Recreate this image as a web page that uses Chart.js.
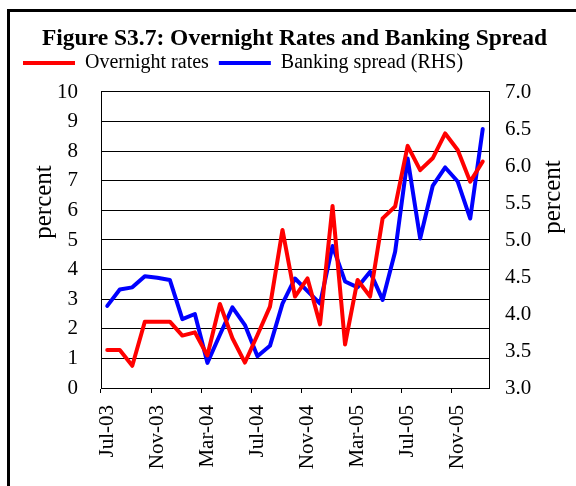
<!DOCTYPE html>
<html>
<head>
<meta charset="utf-8">
<script src="https://cdn.jsdelivr.net/npm/chart.js@4/dist/chart.umd.min.js"></script>
<style>
  html, body { margin: 0; padding: 0; background: #fff; }
  canvas { display: block; }
</style>
</head>
<body>
<canvas id="chart" width="576" height="486"></canvas>
<script>
// monthly observations, Jul-03 .. Jan-06
const months = [
  "Jul-03", "Aug-03", "Sep-03", "Oct-03", "Nov-03", "Dec-03",
  "Jan-04", "Feb-04", "Mar-04", "Apr-04", "May-04", "Jun-04",
  "Jul-04", "Aug-04", "Sep-04", "Oct-04", "Nov-04", "Dec-04",
  "Jan-05", "Feb-05", "Mar-05", "Apr-05", "May-05", "Jun-05",
  "Jul-05", "Aug-05", "Sep-05", "Oct-05", "Nov-05", "Dec-05",
  "Jan-06"
];

// left axis, percent
const overnightRates = [
  1.28, 1.28, 0.75, 2.24, 2.24, 2.24,
  1.77, 1.88, 1.10, 2.84, 1.68, 0.86,
  1.79, 2.75, 5.34, 3.09, 3.70, 2.15,
  6.15, 1.47, 3.65, 3.09, 5.73, 6.13,
  8.18, 7.36, 7.76, 8.60, 8.04, 6.97,
  7.65
];

// right axis (RHS), percent
const bankingSpread = [
  4.11, 4.33, 4.36, 4.51, 4.49, 4.46,
  3.93, 4.00, 3.34, 3.72, 4.09, 3.85,
  3.43, 3.57, 4.14, 4.48, 4.31, 4.14,
  4.92, 4.44, 4.36, 4.57, 4.19, 4.84,
  6.10, 5.02, 5.73, 5.98, 5.79, 5.29,
  6.50
];

const leftRange = { min: 0, max: 10, step: 1 };
const rightRange = { min: 3, max: 7, step: 0.5 };
const labelEvery = 4;

const SERIF = "'Liberation Serif', 'Times New Roman', serif";

// outer frame + rotated "percent" axis titles
const frameAndTitles = {
  id: "frameAndTitles",
  beforeDraw(chart) {
    const ctx = chart.ctx;
    ctx.save();
    ctx.fillStyle = "#000";
    ctx.fillRect(7, 9, chart.width, 3);
    ctx.fillRect(7, 9, 3, chart.height);
    ctx.restore();
  },
  afterDraw(chart) {
    const { ctx, chartArea } = chart;
    ctx.save();
    ctx.font = "25px " + SERIF;
    ctx.fillStyle = "#000";
    ctx.textAlign = "center";
    ctx.textBaseline = "middle";
    [[chartArea.left - 57, chartArea.top + 110], [chartArea.right + 64, chartArea.top + 105]].forEach(([x, y]) => {
      ctx.save();
      ctx.translate(x, y);
      ctx.rotate(-Math.PI / 2);
      ctx.fillText("percent", 0, 0);
      ctx.restore();
    });
    ctx.restore();
  }
};

new Chart(document.getElementById("chart"), {
  type: "line",
  data: {
    labels: months,
    datasets: [
      {
        label: "Overnight rates",
        data: overnightRates,
        yAxisID: "y",
        borderColor: "#ff0000",
        backgroundColor: "#ff0000",
        borderWidth: 4,
        borderCapStyle: "round",
        borderJoinStyle: "round",
        pointRadius: 0,
        tension: 0,
        fill: false,
      },
      {
        label: "Banking spread (RHS)",
        data: bankingSpread,
        yAxisID: "y1",
        borderColor: "#0000ff",
        backgroundColor: "#0000ff",
        borderWidth: 4,
        borderCapStyle: "round",
        borderJoinStyle: "round",
        pointRadius: 0,
        tension: 0,
        fill: false,
      },
    ],
  },
  options: {
    responsive: false,
    animation: false,
    devicePixelRatio: 1,
    layout: { padding: { left: 13, right: 0, top: 0, bottom: 0 } },
    scales: {
      x: {
        offset: true,
        grid: {
          offset: true,
          drawOnChartArea: false,
          drawTicks: true,
          tickLength: 5,
          color: (c) => (c.index % labelEvery === 0 ? "#000" : "rgba(0,0,0,0)"),
        },
        border: { display: true, color: "#000" },
        ticks: {
          autoSkip: false,
          minRotation: 90,
          maxRotation: 90,
          padding: 12,
          color: "#000",
          font: { family: SERIF, size: 21 },
          callback: (v, i) => (i % labelEvery === 0 ? months[i] : ""),
        },
        afterFit: (s) => { s.height = 98; },
      },
      y: {
        position: "left",
        min: leftRange.min,
        max: leftRange.max,
        grid: { color: "#000", drawTicks: false },
        border: { display: true, color: "#000" },
        ticks: {
          stepSize: leftRange.step,
          padding: 23,
          color: "#000",
          font: { family: SERIF, size: 21 },
        },
        afterFit: (s) => { s.width = 88; },
      },
      y1: {
        position: "right",
        min: rightRange.min,
        max: rightRange.max,
        grid: { drawOnChartArea: false, drawTicks: false },
        border: { display: true, color: "#000" },
        ticks: {
          stepSize: rightRange.step,
          padding: 16,
          color: "#000",
          font: { family: SERIF, size: 21 },
          callback: (v) => Number(v).toFixed(1),
        },
        afterFit: (s) => { s.width = 87; },
      },
    },
    plugins: {
      title: {
        display: true,
        text: "Figure S3.7: Overnight Rates and Banking Spread",
        color: "#000",
        font: { family: SERIF, size: 23.5, weight: "bold", lineHeight: 0.34 },
        padding: { top: 35, bottom: 0 },
      },
      subtitle: {
        // thin spacer between legend and plot
        display: true,
        text: "",
        weight: 500,
        font: { size: 1, lineHeight: 1 },
        padding: { top: 0, bottom: 8 },
      },
      legend: {
        align: "start",
        labels: {
          usePointStyle: true,
          pointStyle: "line",
          pointStyleWidth: 52,
          padding: 10,
          color: "#000",
          font: { family: SERIF, size: 20 },
        },
      },
      tooltip: { enabled: false },
    },
  },
  plugins: [frameAndTitles],
});
</script>
</body>
</html>
